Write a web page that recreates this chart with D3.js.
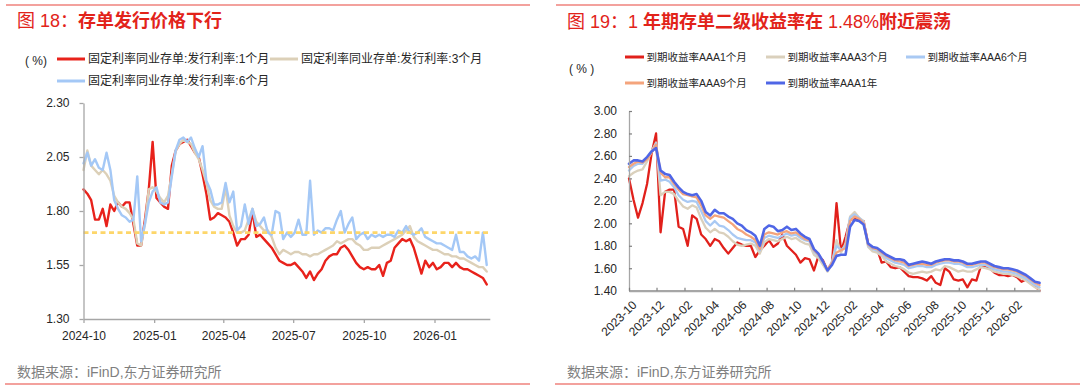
<!DOCTYPE html>
<html><head><meta charset="utf-8">
<script src="https://cdn.jsdelivr.net/npm/d3@7"></script>
<style>
body{margin:0;background:#fff;}
svg{display:block;font-family:"Liberation Sans","Noto Sans CJK SC",sans-serif;}
</style></head><body>
<svg id="c" width="1080" height="388"></svg>
<script>
// ---------- Left chart data (5-day sampling from 2024-10-01) ----------
const leftStart = "2024-10-01";
const leftStepDays = 5;
const leftXTicks = ["2024-10-01","2025-01-01","2025-04-01","2025-07-01","2025-10-01","2026-01-01"];
const leftYTicks = [1.30, 1.55, 1.80, 2.05, 2.30];
const leftNames = ["固定利率同业存单:发行利率:1个月","固定利率同业存单:发行利率:3个月","固定利率同业存单:发行利率:6个月"];
const ncd1M = [
 1.90,1.88,1.85,1.76,1.76,1.81,1.73,1.83,1.80,1.84,
 1.82,1.84,1.84,1.74,1.64,1.64,1.76,1.90,2.12,1.86,
 1.84,1.82,1.81,2.01,2.08,2.11,2.12,2.13,2.10,2.07,
 2.05,1.97,1.88,1.76,1.77,1.79,1.78,1.77,1.75,1.70,
 1.64,1.67,1.67,1.69,1.80,1.68,1.69,1.67,1.65,1.63,
 1.60,1.57,1.56,1.55,1.55,1.56,1.54,1.52,1.49,1.52,
 1.48,1.51,1.53,1.57,1.59,1.60,1.60,1.63,1.64,1.62,
 1.59,1.56,1.54,1.53,1.54,1.53,1.53,1.55,1.50,1.56,
 1.57,1.63,1.65,1.67,1.66,1.67,1.63,1.57,1.51,1.57,
 1.54,1.56,1.53,1.54,1.56,1.56,1.54,1.56,1.54,1.53,
 1.53,1.52,1.51,1.50,1.49,1.46];
const ncd3M = [
 1.99,2.08,2.01,1.99,1.97,1.99,1.97,1.94,1.87,1.84,
 1.82,1.81,1.79,1.76,1.65,1.64,1.74,1.90,1.91,1.89,
 1.86,1.84,1.87,1.97,2.08,2.11,2.13,2.12,2.11,2.07,
 2.04,1.99,1.93,1.85,1.82,1.81,1.81,1.91,1.78,1.73,
 1.70,1.70,1.71,1.76,1.81,1.75,1.73,1.71,1.71,1.68,
 1.63,1.60,1.62,1.61,1.60,1.61,1.61,1.60,1.60,1.59,
 1.60,1.60,1.61,1.62,1.63,1.64,1.66,1.65,1.66,1.67,
 1.67,1.65,1.64,1.62,1.62,1.63,1.63,1.63,1.64,1.65,
 1.66,1.67,1.68,1.69,1.71,1.73,1.68,1.66,1.65,1.64,
 1.63,1.62,1.62,1.61,1.60,1.60,1.59,1.59,1.58,1.58,
 1.57,1.56,1.55,1.54,1.54,1.52];
const ncd6M = [
 2.02,2.07,2.01,2.04,2.00,1.99,2.07,1.99,1.85,1.81,
 1.78,1.77,1.75,1.76,1.96,1.66,1.74,1.84,1.89,1.91,
 1.84,1.83,1.84,1.96,2.08,2.13,2.14,2.12,2.14,2.09,
 2.05,2.10,1.94,1.90,1.83,1.83,1.84,1.93,1.84,1.89,
 1.71,1.73,1.83,1.74,1.81,1.73,1.74,1.77,1.70,1.69,
 1.80,1.79,1.67,1.70,1.68,1.70,1.76,1.69,1.69,1.94,
 1.69,1.71,1.70,1.72,1.72,1.71,1.76,1.80,1.70,1.74,
 1.77,1.67,1.69,1.70,1.67,1.69,1.68,1.69,1.68,1.69,
 1.69,1.68,1.71,1.70,1.73,1.70,1.69,1.70,1.72,1.68,
 1.67,1.66,1.65,1.65,1.64,1.63,1.62,1.69,1.61,1.61,
 1.59,1.58,1.59,1.57,1.70,1.55];
const refLevel = 1.70;

// ---------- Right chart data (10-day sampling from 2023-10-01) ----------
const rightStart = "2023-10-01";
const rightStepDays = 10;
const rightXTicks = ["2023-10-01","2023-12-01","2024-02-01","2024-04-01","2024-06-01","2024-08-01","2024-10-01","2024-12-01","2025-02-01","2025-04-01","2025-06-01","2025-08-01","2025-10-01","2025-12-01","2026-02-01"];
const rightYTicks = [1.40,1.60,1.80,2.00,2.20,2.40,2.60,2.80,3.00];
const rightNames = ["到期收益率AAA1个月","到期收益率AAA3个月","到期收益率AAA6个月","到期收益率AAA9个月","到期收益率AAA1年"];
const ytm1M = [
 2.40,2.21,2.05,2.18,2.35,2.62,2.80,1.92,2.28,2.30,
 2.30,1.97,1.95,1.80,2.07,2.04,1.90,1.86,1.80,1.86,
 1.84,1.78,1.73,1.78,1.83,1.81,1.80,1.80,1.70,1.76,
 1.80,1.85,1.79,1.82,1.90,1.80,1.76,1.72,1.65,1.69,
 1.68,1.58,1.71,1.67,1.58,1.65,2.18,1.75,1.88,2.03,
 2.04,2.03,2.02,1.82,1.78,1.77,1.65,1.66,1.61,1.60,
 1.61,1.57,1.53,1.52,1.52,1.51,1.49,1.53,1.47,1.45,
 1.60,1.57,1.50,1.49,1.50,1.43,1.50,1.49,1.62,1.61,
 1.60,1.56,1.54,1.54,1.53,1.54,1.52,1.48,1.50,1.47,
 1.44,1.40];
const ytm3M = [
 2.42,2.45,2.47,2.48,2.55,2.64,2.72,2.25,2.28,2.28,
 2.26,2.20,2.15,2.13,2.16,2.14,2.04,1.96,1.92,1.95,
 1.92,1.91,1.88,1.84,1.81,1.80,1.81,1.82,1.80,1.73,
 1.83,1.86,1.85,1.84,1.86,1.88,1.86,1.87,1.84,1.82,
 1.81,1.72,1.69,1.63,1.57,1.64,1.85,1.74,1.82,2.06,
 2.10,2.05,2.02,1.79,1.75,1.74,1.71,1.66,1.64,1.62,
 1.61,1.59,1.56,1.55,1.56,1.57,1.56,1.57,1.59,1.58,
 1.62,1.61,1.59,1.57,1.58,1.57,1.57,1.59,1.61,1.60,
 1.59,1.57,1.56,1.55,1.55,1.54,1.53,1.51,1.49,1.46,
 1.43,1.41];
const ytm6M = [
 2.47,2.51,2.53,2.53,2.58,2.64,2.71,2.38,2.39,2.37,
 2.32,2.25,2.21,2.19,2.20,2.19,2.11,2.02,1.98,2.02,
 1.98,1.97,1.94,1.90,1.87,1.86,1.85,1.85,1.83,1.76,
 1.87,1.89,1.88,1.87,1.89,1.91,1.89,1.90,1.87,1.85,
 1.84,1.75,1.71,1.65,1.58,1.66,1.80,1.76,1.80,2.05,
 2.08,2.05,2.01,1.80,1.77,1.76,1.73,1.69,1.67,1.65,
 1.64,1.63,1.60,1.61,1.62,1.62,1.61,1.61,1.63,1.64,
 1.65,1.65,1.64,1.64,1.63,1.61,1.61,1.62,1.63,1.63,
 1.61,1.59,1.58,1.57,1.57,1.56,1.55,1.53,1.51,1.48,
 1.45,1.43];
const ytm9M = [
 2.50,2.53,2.55,2.54,2.57,2.63,2.70,2.45,2.41,2.41,
 2.35,2.30,2.26,2.25,2.24,2.23,2.16,2.07,2.04,2.07,
 2.06,2.05,2.02,1.99,1.95,1.93,1.90,1.88,1.85,1.77,
 1.90,1.92,1.91,1.90,1.92,1.93,1.91,1.92,1.89,1.86,
 1.85,1.76,1.72,1.66,1.59,1.65,1.74,1.76,1.78,2.02,
 2.06,2.04,2.00,1.81,1.78,1.77,1.74,1.71,1.69,1.67,
 1.66,1.65,1.62,1.63,1.64,1.64,1.63,1.63,1.65,1.66,
 1.67,1.67,1.66,1.66,1.65,1.63,1.63,1.64,1.65,1.65,
 1.63,1.61,1.60,1.59,1.59,1.58,1.57,1.55,1.53,1.50,
 1.47,1.45];
const ytm1Y = [
 2.53,2.56,2.56,2.55,2.59,2.64,2.67,2.47,2.44,2.43,
 2.37,2.32,2.28,2.26,2.25,2.26,2.20,2.10,2.07,2.12,
 2.09,2.09,2.06,2.04,2.00,1.98,1.94,1.92,1.89,1.80,
 1.95,1.98,1.97,1.93,1.94,1.97,1.94,1.95,1.91,1.88,
 1.86,1.77,1.73,1.66,1.58,1.63,1.71,1.72,1.72,1.97,
 2.03,2.02,1.99,1.82,1.79,1.78,1.75,1.72,1.70,1.68,
 1.68,1.67,1.63,1.64,1.65,1.66,1.65,1.64,1.66,1.67,
 1.68,1.68,1.67,1.67,1.66,1.64,1.64,1.65,1.66,1.66,
 1.64,1.62,1.61,1.60,1.60,1.59,1.58,1.56,1.54,1.51,
 1.48,1.47];

// ---------- drawing ----------
const parse = d3.utcParse("%Y-%m-%d");
const svg = d3.select("#c");
const TITLE_RED = "#e2231a";
const AXIS_GRAY = "#a6a6a6";
const TEXT = "#262626";

function datesFor(start, step, n) {
  const s = parse(start);
  return d3.range(n).map(i => d3.utcDay.offset(s, i * step));
}
function drawSeries(g, dates, vals, x, y, color, w) {
  g.append("path")
    .datum(vals.map((v, i) => [dates[i], v]))
    .attr("fill", "none").attr("stroke", color).attr("stroke-width", w)
    .attr("stroke-linejoin", "round").attr("stroke-linecap", "round")
    .attr("d", d3.line().x(d => x(d[0])).y(d => y(d[1])));
}
function frame(x0, x1, xt, parts) {
  svg.append("line").attr("x1", x0).attr("x2", x1).attr("y1", 5).attr("y2", 5)
    .attr("stroke", "#e8453c").attr("stroke-width", 1.2);
  svg.append("line").attr("x1", x0 - 1).attr("x2", x1).attr("y1", 384).attr("y2", 384)
    .attr("stroke", "#e8453c").attr("stroke-width", 1.2);
  const t = svg.append("text").attr("x", xt).attr("y", parts.y).attr("fill", TITLE_RED)
    .attr("font-size", 18);
  parts.segs.forEach(s => t.append("tspan").attr("font-weight", s[1] ? "bold" : "normal").text(s[0]));
  svg.append("text").attr("x", xt).attr("y", 377).attr("fill", "#7f7f7f")
    .attr("font-size", 14).text("数据来源：iFinD,东方证券研究所");
}

// ===== LEFT =====
frame(6, 530, 17, {y: 27, segs: [["图 18：", false], ["存单发行价格下行", true]]});
{
  const x = d3.scaleUtc().domain([parse("2024-10-01"), parse("2026-03-14")]).range([83.5, 489.8]);
  const y = d3.scaleLinear().domain([1.30, 2.30]).range([319, 103]);
  const g = svg.append("g");
  const dates = datesFor(leftStart, leftStepDays, ncd1M.length);
  const colors = ["#e8221b", "#dcd0b8", "#a4c8f6"];

  drawSeries(g, dates, ncd1M, x, y, colors[0], 2.4);
  drawSeries(g, dates, ncd3M, x, y, colors[1], 2.4);
  drawSeries(g, dates, ncd6M, x, y, colors[2], 2.4);
  g.append("line").attr("x1", x.range()[0]).attr("x2", x.range()[1])
    .attr("y1", y(refLevel)).attr("y2", y(refLevel))
    .attr("stroke", "#fdd66a").attr("stroke-width", 2.6).attr("stroke-dasharray", "5,3.5");

  const ya = svg.append("g").attr("transform", `translate(${x.range()[0]},0)`)
    .call(d3.axisLeft(y).tickValues(leftYTicks).tickFormat(d3.format(".2f"))
      .tickSizeInner(4).tickSizeOuter(0).tickPadding(10));
  const xa = svg.append("g").attr("transform", `translate(0,${y.range()[0]})`)
    .call(d3.axisBottom(x).tickValues(leftXTicks.map(parse)).tickFormat(d3.utcFormat("%Y-%m"))
      .tickSizeInner(4).tickSizeOuter(0).tickPadding(8));
  [ya, xa].forEach(a => {
    a.select(".domain").attr("stroke", AXIS_GRAY).attr("stroke-width", 1.3);
    a.selectAll(".tick line").attr("stroke", AXIS_GRAY).attr("stroke-width", 1.3);
    a.selectAll(".tick text").attr("fill", TEXT).attr("font-size", 12)
      .attr("font-family", "Liberation Sans, sans-serif");
  });

  svg.append("text").attr("x", 25).attr("y", 65).attr("font-size", 12).attr("fill", TEXT).text("( %)");
  const items = [[57, 59], [270, 59], [57, 81]];
  items.forEach((p, i) => {
    svg.append("line").attr("x1", p[0]).attr("x2", p[0] + 28).attr("y1", p[1]).attr("y2", p[1])
      .attr("stroke", colors[i]).attr("stroke-width", 3);
    svg.append("text").attr("x", p[0] + 31).attr("y", p[1] + 4.3).attr("font-size", 12)
      .attr("fill", TEXT).text(leftNames[i]);
  });
}

// ===== RIGHT =====
frame(556, 1080, 567, {y: 28, segs: [["图 19：1 ", false], ["年期存单二级收益率在 ", true], ["1.48%", false], ["附近震荡", true]]});
{
  const x = d3.scaleUtc().domain([parse("2023-10-01"), parse("2026-03-30")]).range([629, 1040]);
  const y = d3.scaleLinear().domain([1.40, 3.00]).range([290.7, 111]);
  const g = svg.append("g");
  const dates = datesFor(rightStart, rightStepDays, ytm1M.length);
  const colors = ["#e1201b", "#dad0bc", "#a9c9f3", "#f4a47c", "#4f66e6"];
  const series = [ytm1M, ytm3M, ytm6M, ytm9M, ytm1Y];
  series.forEach((s, i) => drawSeries(g, dates, s, x, y, colors[i], i === 4 ? 2.6 : 2.3));

  const ya = svg.append("g").attr("transform", `translate(${x.range()[0]},0)`)
    .call(d3.axisLeft(y).tickValues(rightYTicks).tickFormat(d3.format(".2f"))
      .tickSizeInner(-3).tickSizeOuter(0).tickPadding(12));
  const xa = svg.append("g").attr("transform", `translate(0,${y.range()[0]})`)
    .call(d3.axisBottom(x).tickValues(rightXTicks.map(parse)).tickFormat(d3.utcFormat("%Y-%m"))
      .tickSizeInner(-3).tickSizeOuter(0));
  ya.select(".domain").attr("stroke", AXIS_GRAY).attr("stroke-width", 1.3);
  xa.select(".domain").attr("stroke", AXIS_GRAY).attr("stroke-width", 2.2);
  [ya, xa].forEach(a => {
    a.selectAll(".tick line").attr("stroke", "#7f7f7f").attr("stroke-width", 1.2);
    a.selectAll(".tick text").attr("fill", TEXT).attr("font-size", 12)
      .attr("font-family", "Liberation Sans, sans-serif");
  });
  xa.selectAll(".tick text").attr("text-anchor", "end").attr("x", 0).attr("y", 0).attr("dy", "0.35em")
    .attr("transform", "translate(5,12) rotate(-45)");

  svg.append("text").attr("x", 569).attr("y", 73).attr("font-size", 12).attr("fill", TEXT).text("( % )");
  const items = [[625, 57], [766, 57], [906, 57], [625, 83], [766, 83]];
  items.forEach((p, i) => {
    svg.append("line").attr("x1", p[0]).attr("x2", p[0] + 19).attr("y1", p[1]).attr("y2", p[1])
      .attr("stroke", colors[i]).attr("stroke-width", 3);
    svg.append("text").attr("x", p[0] + 21.5).attr("y", p[1] + 4).attr("font-size", 10.5)
      .attr("fill", TEXT).text(rightNames[i]);
  });
}
</script>
</body></html>
